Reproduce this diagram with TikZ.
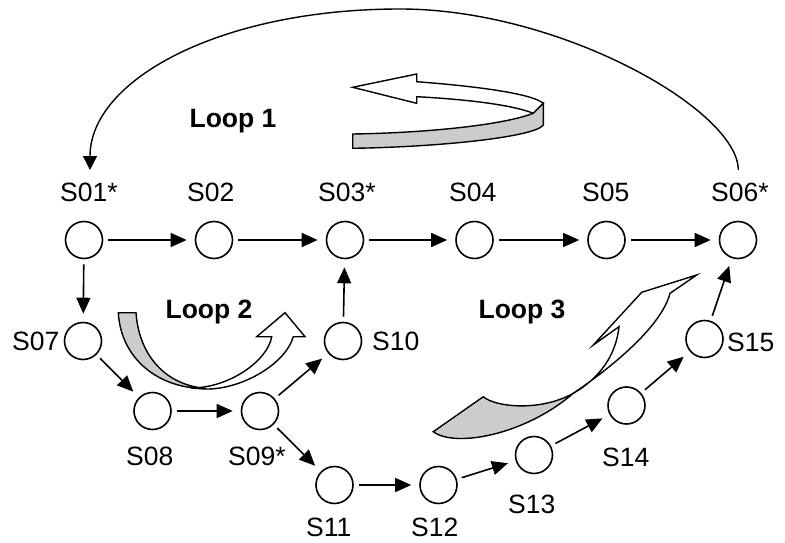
\documentclass[tikz,border=0pt]{standalone}
\usepackage{fontspec}
\setmainfont{Liberation Sans}
\usetikzlibrary{arrows.meta}
\begin{document}
\begin{tikzpicture}[x=1pt,y=-1pt,
  state/.style={circle,draw,line width=1.6pt,minimum size=37pt,inner sep=0pt},
  tag/.style={anchor=base west,inner sep=0pt,font=\fontsize{26.5}{30}\selectfont},
  looptag/.style={inner sep=0pt,font=\fontsize{26.5}{30}\selectfont\bfseries},
  flow/.style={line width=1.6pt,-{Triangle[length=16pt,width=14pt]},
               shorten <=5pt,shorten >=8pt},
  ribbon/.style={line width=1.4pt,line join=miter},
  back/.style={fill=gray!40}]
\useasboundingbox (0,0) rectangle (785,543);

% states
\node[state] (s01) at (84,240) {};
\node[state] (s02) at (214,240) {};
\node[state] (s03) at (345,240) {};
\node[state] (s04) at (474.5,240) {};
\node[state] (s05) at (606.5,240) {};
\node[state] (s06) at (738,240) {};
\node[state] (s07) at (83,341) {};
\node[state] (s08) at (152.5,411) {};
\node[state] (s09) at (260,411) {};
\node[state] (s10) at (343,341) {};
\node[state] (s11) at (334.5,485) {};
\node[state] (s12) at (438.5,485) {};
\node[state] (s13) at (534,455) {};
\node[state] (s14) at (626.5,405.5) {};
\node[state] (s15) at (704.5,339) {};

% state names
\node[tag] (t01) at (60,201.7) {S01*};
\node[tag] (t02) at (187,201.7) {S02};
\node[tag] (t03) at (318,201.7) {S03*};
\node[tag] (t04) at (449,201.7) {S04};
\node[tag] (t05) at (582,201.7) {S05};
\node[tag] (t06) at (711,201.7) {S06*};
\node[tag] (t07) at (12,350) {S07};
\node[tag] (t08) at (126,465) {S08};
\node[tag] (t09) at (228,465) {S09*};
\node[tag] (t10) at (372,350) {S10};
\node[tag] (t11) at (306,536.7) {S11};
\node[tag] (t12) at (411,536.7) {S12};
\node[tag] (t13) at (508,513.3) {S13};
\node[tag] (t14) at (602,466) {S14};
\node[tag] (t15) at (727,351) {S15};

% transitions
\draw[flow] (s01) -- (s02);
\draw[flow] (s02) -- (s03);
\draw[flow] (s03) -- (s04);
\draw[flow] (s04) -- (s05);
\draw[flow] (s05) -- (s06);
\draw[flow] (s01) -- (s07);
\draw[flow] (s07) -- (s08);
\draw[flow] (s08) -- (s09);
\draw[flow] (s09) -- (s10);
\draw[flow] (s10) -- (s03);
\draw[flow] (s09) -- (s11);
\draw[flow] (s11) -- (s12);
\draw[flow] (s12) -- (s13);
\draw[flow] (s13) -- (s14);
\draw[flow] (s14) -- (s15);
\draw[flow] (s15) -- (s06);

% long return arc from S06* back to S01*
\coordinate (arcR) at (738.3,170);
\coordinate (arcL) at (90,170);
\draw[line width=1.4pt,-{Triangle[length=14pt,width=14pt]}]
  (arcR) .. controls (738,110) and (560,9) .. (400,9)
         .. controls (220,9) and (90,80) .. (arcL);

% loop captions
\node[looptag] (loop1) at (233,121) {Loop 1};
\node[looptag] (loop2) at (209,312) {Loop 2};
\node[looptag] (loop3) at (522,312) {Loop 3};

% Loop 1 ribbon arrow
\draw[ribbon,fill=white] (352.7,87.3) -- (416.7,74) -- (416.7,81.7)
  .. controls (460,85) and (530,92) .. (543.3,103.3) -- (533.3,113.3)
  .. controls (510,104) and (460,99) .. (416.7,96.7) -- (416.7,103.3) -- cycle;
\draw[ribbon,back] (352.7,134) .. controls (420,133) and (500,126) .. (533.3,113.3)
  -- (543.3,103.3) -- (543.3,125)
  .. controls (535,137) and (440,147) .. (352.7,148.3) -- cycle;

% Loop 2 ribbon arrow
\draw[ribbon,fill=white] (191,388) .. controls (230,388) and (268,360) .. (271.7,336.7)
  -- (256.7,336.7) -- (285,312.7) -- (305,336.7) -- (293.3,336.7)
  .. controls (285,365) and (240,390) .. (205,389) -- cycle;
\draw[ribbon,back] (118.3,312.7) -- (136,312.7)
  .. controls (139,355) and (165,385) .. (206,388.5)
  .. controls (160,389) and (121,360) .. (118.3,312.7) -- cycle;

% Loop 3 ribbon arrow
\draw[ribbon,back] (433.3,431.7) .. controls (455,448) and (525,435) .. (573.3,393.3)
  .. controls (540,412) and (495,407) .. (483.3,396.7) -- cycle;
\draw[ribbon,fill=white] (573.3,393.3) .. controls (615,365) and (662,325) .. (670,293.3)
  -- (696.7,275) -- (641.7,292.3) -- (593.3,345) -- (619,326.7)
  .. controls (616,355) and (600,378) .. (573.3,393.3) -- cycle;
\end{tikzpicture}
\end{document}
